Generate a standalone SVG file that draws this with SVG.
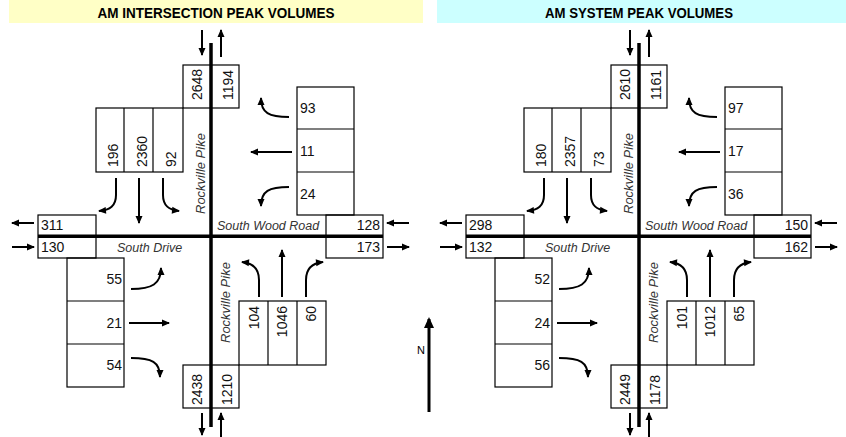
<svg xmlns="http://www.w3.org/2000/svg" width="846" height="437" viewBox="0 0 846 437">
<style>
.box{fill:none;stroke:#000;stroke-width:1.2}
.ln{stroke:#000;stroke-width:1.2}
.road{stroke:#000;stroke-width:3.5;fill:none}
.arr{fill:none;stroke:#000;stroke-width:2;marker-end:url(#ah)}
.num{font-family:"Liberation Sans",Arial,sans-serif;font-size:14px;fill:#111}
.lbl{font-family:"Liberation Sans",Arial,sans-serif;font-style:italic;font-size:13px;fill:#333}
.rd{font-size:12.5px}
.hdr{font-family:"Liberation Sans",Arial,sans-serif;font-weight:bold;font-size:15px;fill:#000}
.e{text-anchor:end}
</style>
<defs>
<marker id="ah" markerUnits="userSpaceOnUse" markerWidth="9" markerHeight="8" refX="7" refY="3.5" orient="auto" overflow="visible">
<path d="M0,0 L8,3.5 L0,7 z" fill="#000"/>
</marker>
<marker id="ahN" markerUnits="userSpaceOnUse" markerWidth="12" markerHeight="11" refX="9" refY="5" orient="auto" overflow="visible">
<path d="M0,0 L11,5 L0,10 z" fill="#000"/>
</marker>
</defs>

<g id="header-left">
<rect x="9" y="0" width="414" height="23" fill="#FFFFC6"/>
<text class="hdr" x="216" y="18" text-anchor="middle" textLength="237" lengthAdjust="spacingAndGlyphs">AM INTERSECTION PEAK VOLUMES</text>
</g>
<g id="header-right">
<rect x="437" y="0" width="409" height="23" fill="#CCFFFF"/>
<text class="hdr" x="639" y="18" text-anchor="middle" textLength="188" lengthAdjust="spacingAndGlyphs">AM SYSTEM PEAK VOLUMES</text>
</g>

<!-- LEFT PANEL -->
<g id="panel-left">
<g id="L-roads">
<line class="road" x1="211" y1="43" x2="211" y2="427"/>
<line class="road" x1="38" y1="236.2" x2="383" y2="236.2"/>
<text class="lbl" transform="translate(205,214) rotate(-90)">Rockville Pike</text>
<text class="lbl" transform="translate(230,343) rotate(-90)">Rockville Pike</text>
<text class="lbl rd" x="217" y="230">South Wood Road</text>
<text class="lbl rd" x="117" y="252">South Drive</text>
</g>
<g id="L-north-leg">
<rect class="box" x="183" y="65" width="56" height="43"/>
<text class="num" transform="translate(202,100) rotate(-90)">2648</text>
<text class="num" transform="translate(233,100) rotate(-90)">1194</text>
</g>
<g id="L-southbound">
<rect class="box" x="96" y="108" width="87" height="64"/>
<line class="ln" x1="124" y1="108" x2="124" y2="172"/>
<line class="ln" x1="153" y1="108" x2="153" y2="172"/>
<text class="num" transform="translate(118,167) rotate(-90)">196</text>
<text class="num" transform="translate(147,167) rotate(-90)">2360</text>
<text class="num" transform="translate(176,167) rotate(-90)">92</text>
</g>
<g id="L-westbound">
<rect class="box" x="297" y="87" width="57" height="128"/>
<line class="ln" x1="297" y1="129" x2="354" y2="129"/>
<line class="ln" x1="297" y1="172" x2="354" y2="172"/>
<text class="num" x="300" y="113">93</text>
<text class="num" x="300" y="156">11</text>
<text class="num" x="300" y="199">24</text>
</g>
<g id="L-east-leg">
<rect class="box" x="326" y="215" width="57" height="43"/>
<text class="num e" x="380" y="230">128</text>
<text class="num e" x="380" y="252">173</text>
</g>
<g id="L-west-leg">
<rect class="box" x="38" y="215" width="58" height="43"/>
<text class="num" x="41" y="230">311</text>
<text class="num" x="41" y="252">130</text>
</g>
<g id="L-eastbound">
<rect class="box" x="67" y="258" width="57" height="129"/>
<line class="ln" x1="67" y1="301" x2="124" y2="301"/>
<line class="ln" x1="67" y1="344" x2="124" y2="344"/>
<text class="num e" x="122" y="284">55</text>
<text class="num e" x="122" y="328">21</text>
<text class="num e" x="122" y="370">54</text>
</g>
<g id="L-northbound">
<rect class="box" x="239" y="301" width="87" height="64"/>
<line class="ln" x1="268" y1="301" x2="268" y2="365"/>
<line class="ln" x1="297" y1="301" x2="297" y2="365"/>
<text class="num e" transform="translate(259,306) rotate(-90)">104</text>
<text class="num e" transform="translate(287,306) rotate(-90)">1046</text>
<text class="num e" transform="translate(316,306) rotate(-90)">60</text>
</g>
<g id="L-south-leg">
<rect class="box" x="183" y="365" width="56" height="43"/>
<text class="num" transform="translate(202,405) rotate(-90)">2438</text>
<text class="num" transform="translate(232,405) rotate(-90)">1210</text>
</g>
<g id="L-connectors">
<path class="arr" d="M202,30 L202,55"/>
<path class="arr" d="M221,57 L221,30"/>
<path class="arr" d="M202,413 L202,435"/>
<path class="arr" d="M221,437 L221,413"/>
<path class="arr" d="M34,223 L12,223"/>
<path class="arr" d="M12,247 L34,247"/>
<path class="arr" d="M409,223 L387,223"/>
<path class="arr" d="M387,247 L409,247"/>
<path class="arr" d="M116,178 L116,195 C116,206 110,210 99,211"/>
<path class="arr" d="M139,178 L139,223"/>
<path class="arr" d="M163,178 L163,195 C163,206 169,210 179,211"/>
<path class="arr" d="M289,117 C269,117 261,113 261,98"/>
<path class="arr" d="M292,152 L251,152"/>
<path class="arr" d="M289,187 C269,187 261,191 261,206"/>
<path class="arr" d="M259,297 L259,280 C259,268 252,263 242,262"/>
<path class="arr" d="M282,297 L282,250"/>
<path class="arr" d="M306,297 L306,280 C306,268 313,263 323,262"/>
<path class="arr" d="M131,289 C152,289 161,284 161,268"/>
<path class="arr" d="M129,323 L169,323"/>
<path class="arr" d="M131,358 C152,358 160,362 160,377"/>
</g>
</g>

<!-- RIGHT PANEL -->
<g id="panel-right" transform="translate(428,0)">
<g id="R-roads">
<line class="road" x1="211" y1="43" x2="211" y2="427"/>
<line class="road" x1="38" y1="236.2" x2="383" y2="236.2"/>
<text class="lbl" transform="translate(205,214) rotate(-90)">Rockville Pike</text>
<text class="lbl" transform="translate(230,343) rotate(-90)">Rockville Pike</text>
<text class="lbl rd" x="217" y="230">South Wood Road</text>
<text class="lbl rd" x="117" y="252">South Drive</text>
</g>
<g id="R-north-leg">
<rect class="box" x="183" y="65" width="56" height="43"/>
<text class="num" transform="translate(202,100) rotate(-90)">2610</text>
<text class="num" transform="translate(233,100) rotate(-90)">1161</text>
</g>
<g id="R-southbound">
<rect class="box" x="96" y="108" width="87" height="64"/>
<line class="ln" x1="124" y1="108" x2="124" y2="172"/>
<line class="ln" x1="153" y1="108" x2="153" y2="172"/>
<text class="num" transform="translate(118,167) rotate(-90)">180</text>
<text class="num" transform="translate(147,167) rotate(-90)">2357</text>
<text class="num" transform="translate(176,167) rotate(-90)">73</text>
</g>
<g id="R-westbound">
<rect class="box" x="297" y="87" width="57" height="128"/>
<line class="ln" x1="297" y1="129" x2="354" y2="129"/>
<line class="ln" x1="297" y1="172" x2="354" y2="172"/>
<text class="num" x="300" y="113">97</text>
<text class="num" x="300" y="156">17</text>
<text class="num" x="300" y="199">36</text>
</g>
<g id="R-east-leg">
<rect class="box" x="326" y="215" width="57" height="43"/>
<text class="num e" x="380" y="230">150</text>
<text class="num e" x="380" y="252">162</text>
</g>
<g id="R-west-leg">
<rect class="box" x="38" y="215" width="58" height="43"/>
<text class="num" x="41" y="230">298</text>
<text class="num" x="41" y="252">132</text>
</g>
<g id="R-eastbound">
<rect class="box" x="67" y="258" width="57" height="129"/>
<line class="ln" x1="67" y1="301" x2="124" y2="301"/>
<line class="ln" x1="67" y1="344" x2="124" y2="344"/>
<text class="num e" x="122" y="284">52</text>
<text class="num e" x="122" y="328">24</text>
<text class="num e" x="122" y="370">56</text>
</g>
<g id="R-northbound">
<rect class="box" x="239" y="301" width="87" height="64"/>
<line class="ln" x1="268" y1="301" x2="268" y2="365"/>
<line class="ln" x1="297" y1="301" x2="297" y2="365"/>
<text class="num e" transform="translate(259,306) rotate(-90)">101</text>
<text class="num e" transform="translate(287,306) rotate(-90)">1012</text>
<text class="num e" transform="translate(316,306) rotate(-90)">65</text>
</g>
<g id="R-south-leg">
<rect class="box" x="183" y="365" width="56" height="43"/>
<text class="num" transform="translate(202,405) rotate(-90)">2449</text>
<text class="num" transform="translate(232,405) rotate(-90)">1178</text>
</g>
<g id="R-connectors">
<path class="arr" d="M202,30 L202,55"/>
<path class="arr" d="M221,57 L221,30"/>
<path class="arr" d="M202,413 L202,435"/>
<path class="arr" d="M221,437 L221,413"/>
<path class="arr" d="M34,223 L12,223"/>
<path class="arr" d="M12,247 L34,247"/>
<path class="arr" d="M409,223 L387,223"/>
<path class="arr" d="M387,247 L409,247"/>
<path class="arr" d="M116,178 L116,195 C116,206 110,210 99,211"/>
<path class="arr" d="M139,178 L139,223"/>
<path class="arr" d="M163,178 L163,195 C163,206 169,210 179,211"/>
<path class="arr" d="M289,117 C269,117 261,113 261,98"/>
<path class="arr" d="M292,152 L251,152"/>
<path class="arr" d="M289,187 C269,187 261,191 261,206"/>
<path class="arr" d="M259,297 L259,280 C259,268 252,263 242,262"/>
<path class="arr" d="M282,297 L282,250"/>
<path class="arr" d="M306,297 L306,280 C306,268 313,263 323,262"/>
<path class="arr" d="M131,289 C152,289 161,284 161,268"/>
<path class="arr" d="M129,323 L169,323"/>
<path class="arr" d="M131,358 C152,358 160,362 160,377"/>
</g>
</g>

<g id="north-arrow">
<line x1="429" y1="412" x2="429" y2="319" stroke="#000" stroke-width="3" marker-end="url(#ahN)"/>
<text x="417" y="354" font-family="Liberation Sans, Arial, sans-serif" font-size="11" fill="#000">N</text>
</g>
</svg>
